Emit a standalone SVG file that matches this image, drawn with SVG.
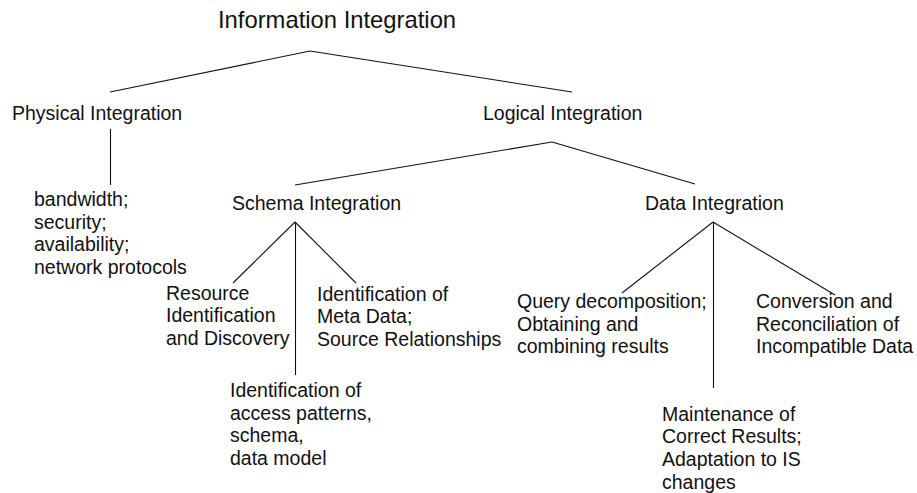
<svg xmlns="http://www.w3.org/2000/svg" width="917" height="493" viewBox="0 0 917 493">
  <style>
    text { font-family: "Liberation Sans", Arial, sans-serif; font-size: 19.5px; fill: #111; }
    .title { font-size: 23.8px; }
    .links line { stroke: #111; stroke-width: 1.1; fill: none; }
  </style>
  <rect width="917" height="493" fill="#fff"/>

  <!-- tree edges -->
  <g id="connectors" class="links">
    <line x1="310" y1="51" x2="110" y2="92"/>
    <line x1="310" y1="51" x2="572" y2="92"/>
    <line x1="110.5" y1="129" x2="110.5" y2="185"/>
    <line x1="552" y1="142" x2="295" y2="185"/>
    <line x1="552" y1="142" x2="695" y2="184"/>
    <line x1="295" y1="222" x2="233" y2="283"/>
    <line x1="295.5" y1="222" x2="295.5" y2="375"/>
    <line x1="295" y1="222" x2="356" y2="283"/>
    <line x1="713" y1="222" x2="622" y2="293"/>
    <line x1="713.5" y1="222" x2="713.5" y2="388"/>
    <line x1="713" y1="222" x2="835" y2="295"/>
  </g>

  <g id="information-integration">
    <text class="title" x="218" y="28">Information Integration</text>
  </g>
  <g id="physical-integration">
    <text x="12" y="120">Physical Integration</text>
  </g>
  <g id="logical-integration">
    <text x="483" y="120">Logical Integration</text>
  </g>
  <g id="physical-aspects">
    <text x="34" y="206">bandwidth;<tspan x="34" dy="22.6">security;</tspan><tspan x="34" dy="22.6">availability;</tspan><tspan x="34" dy="22.6">network protocols</tspan></text>
  </g>
  <g id="schema-integration">
    <text x="232" y="210">Schema Integration</text>
  </g>
  <g id="data-integration">
    <text x="645" y="210">Data Integration</text>
  </g>
  <g id="resource-discovery">
    <text x="166" y="299.5">Resource<tspan x="166" dy="22.6">Identification</tspan><tspan x="166" dy="22.6">and Discovery</tspan></text>
  </g>
  <g id="meta-data">
    <text x="317" y="300.5">Identification of<tspan x="317" dy="22.5">Meta Data;</tspan><tspan x="317" dy="22.5">Source Relationships</tspan></text>
  </g>
  <g id="access-patterns">
    <text x="230" y="397">Identification of<tspan x="230" dy="22.7">access patterns,</tspan><tspan x="230" dy="22.7">schema,</tspan><tspan x="230" dy="22.7">data model</tspan></text>
  </g>
  <g id="query-decomposition">
    <text x="517" y="308">Query decomposition;<tspan x="517" dy="22.6">Obtaining and</tspan><tspan x="517" dy="22.6">combining results</tspan></text>
  </g>
  <g id="conversion">
    <text x="756" y="308">Conversion and<tspan x="756" dy="22.6">Reconciliation of</tspan><tspan x="756" dy="22.6">Incompatible Data</tspan></text>
  </g>
  <g id="maintenance">
    <text x="662" y="420.5">Maintenance of<tspan x="662" dy="22.7">Correct Results;</tspan><tspan x="662" dy="22.7">Adaptation to IS</tspan><tspan x="662" dy="22.7">changes</tspan></text>
  </g>
</svg>
